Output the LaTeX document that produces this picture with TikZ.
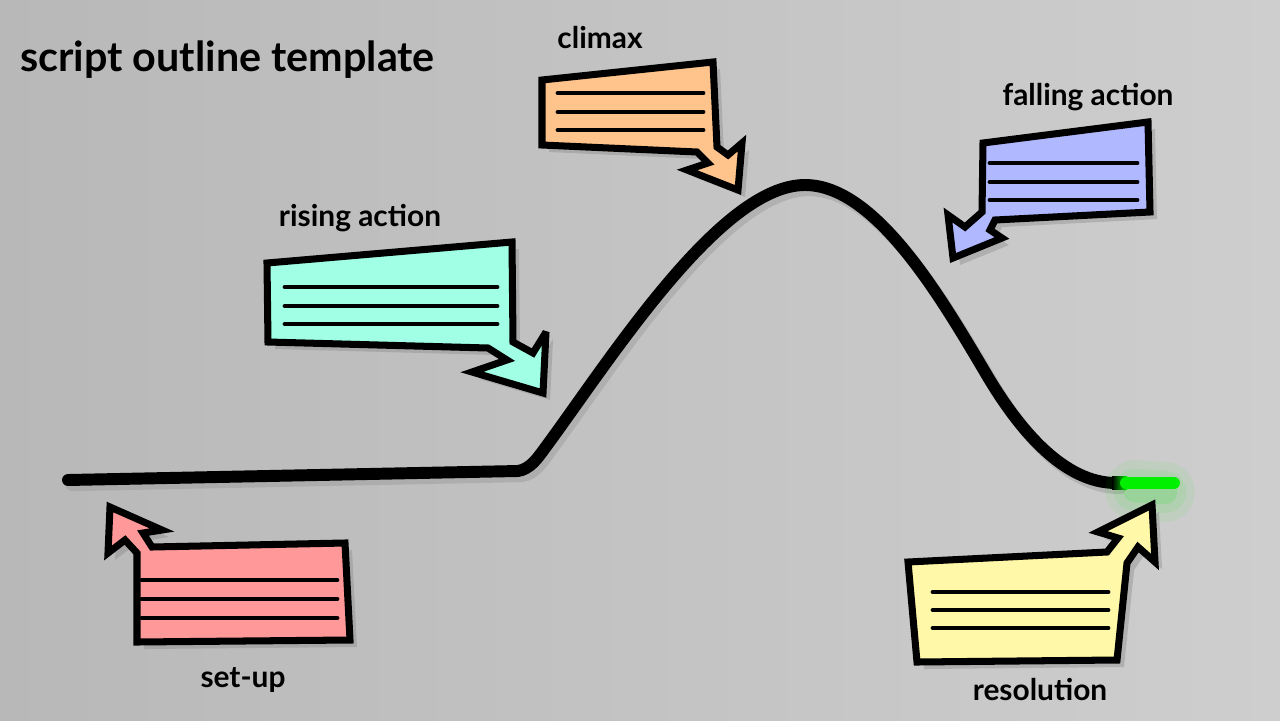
\documentclass[tikz,border=0pt]{standalone}
\usepackage{fontspec}
\setmainfont{Lato}
\usetikzlibrary{shadows}

\definecolor{bgleft}{RGB}{184,184,184}
\definecolor{bgright}{RGB}{206,206,206}
\definecolor{setupred}{RGB}{255,153,153}
\definecolor{risingcyan}{RGB}{160,255,228}
\definecolor{climaxorange}{RGB}{255,196,140}
\definecolor{fallingblue}{RGB}{176,184,255}
\definecolor{resolyellow}{RGB}{255,248,168}
\definecolor{endgreen}{RGB}{0,240,0}

\tikzset{
  callout/.style={draw=black, line width=4pt, line join=miter, miter limit=4,
    drop shadow={shadow xshift=4pt, shadow yshift=-4pt, opacity=0.35}},
  noteline/.style={line width=2.8pt, line cap=round},
  lbl/.style={font=\fontsize{17}{17}\selectfont\bfseries, inner sep=0pt}
}

\begin{document}
\begin{tikzpicture}[x=0.02cm, y=-0.02cm]
  % paper
  \shade[left color=bgleft, right color=bgright] (0,0) rectangle (1280,720);
  \useasboundingbox (0,0) rectangle (1280,720);

  \node[lbl, font=\fontsize{23.5}{23.5}\selectfont\bfseries, anchor=west] (title) at (20,60) {script outline template};

  % the story curve
  \draw[black!40, opacity=0.45, line width=7pt, line cap=round, shift={(4,5)}] (68,480) -- (518,471)
    .. controls (530,469) and (537,459) .. (545,448)
    .. controls (610,360) and (720,185) .. (805,185)
    .. controls (875,185) and (940,296) .. (985,372)
    .. controls (1020,432) and (1065,483) .. (1116,483);
  \draw[line width=6.8pt, line cap=round] (68,480) -- (518,471)
    .. controls (530,469) and (537,459) .. (545,448)
    .. controls (610,360) and (720,185) .. (805,185)
    .. controls (875,185) and (940,296) .. (985,372)
    .. controls (1020,432) and (1065,483) .. (1116,483);
  \foreach \w/\o in {34pt/0.06, 24pt/0.08, 14pt/0.12}
    \draw[endgreen, opacity=\o, line width=\w, line cap=round] (1135,490) -- (1165,492);
  \shade[left color=black, right color=endgreen] (1112,476.6) rectangle (1127,489.4);
  \draw[endgreen, line width=6.8pt, line cap=round] (1126,483) -- (1174,483);

  % set-up
  \draw[callout, fill=setupred] (137,642) -- (350,640) -- (345,543) -- (152,547) -- (143,533)
    -- (162,530) -- (110,507) -- (108,553) -- (125,540) -- (137,553) -- cycle;
  \foreach \y in {580,599,618} \draw[noteline] (142,\y) -- (337,\y);
  \node[lbl] (setup) at (243,680) {set-up};

  % rising action
  \draw[callout, fill=risingcyan] (267,263) -- (512,242) -- (513,342) -- (533,353) -- (546,332)
    -- (543,393) -- (472,372) -- (507,360) -- (488,348) -- (268,342) -- cycle;
  \foreach \y in {287,306,324} \draw[noteline] (285,\y) -- (497,\y);
  \node[lbl] (rising) at (360,218) {rising action};

  % climax
  \draw[callout, fill=climaxorange] (542,80) -- (713,62) -- (717,147) -- (728,155) -- (742,143)
    -- (738,190) -- (687,170) -- (708,163) -- (697,152) -- (542,145) -- cycle;
  \foreach \y in {93,112,130} \draw[noteline] (558,\y) -- (703,\y);
  \node[lbl] (climax) at (600,38) {climax};

  % falling action
  \draw[callout, fill=fallingblue] (983,143) -- (1148,122) -- (1150,212) -- (995,220) -- (990,230)
    -- (1002,238) -- (953,258) -- (948,215) -- (965,227) -- (982,212) -- cycle;
  \foreach \y in {163,182,200} \draw[noteline] (990,\y) -- (1137,\y);
  \node[lbl] (falling) at (1088,97) {falling action};

  % resolution
  \draw[callout, fill=resolyellow] (917,662) -- (908,562) -- (1107,552) -- (1118,538) -- (1098,532)
    -- (1152,505) -- (1155,562) -- (1138,547) -- (1127,563) -- (1117,660) -- cycle;
  \foreach \y in {592,610,628} \draw[noteline] (933,\y) -- (1108,\y);
  \node[lbl] (resolution) at (1040,690) {resolution};
\end{tikzpicture}
\end{document}
